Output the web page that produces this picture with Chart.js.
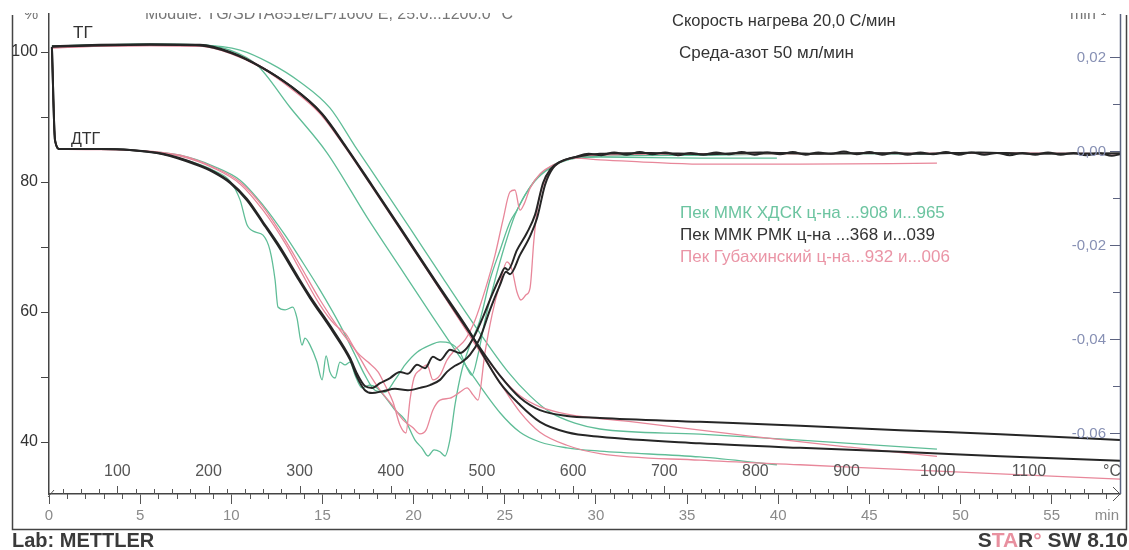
<!DOCTYPE html>
<html>
<head>
<meta charset="utf-8">
<script src="https://cdn.jsdelivr.net/npm/chart.js@4.4.1/dist/chart.umd.min.js"></script>
<style>
  html, body { margin: 0; padding: 0; background: #fff; }
  canvas { display: block; }
</style>
</head>
<body>
<canvas id="c" width="1129" height="550"></canvas>
<script>
// ---- TG curves: [time, min ; mass, %] ----
const tgBlackA = [[0.16,100.9],[2.80,101.1],[5.54,101.2],[8.28,101.1],[9.93,100.0],[11.57,97.8],[13.22,94.8],[14.87,90.8],[16.24,85.5],[17.61,79.8],[19.25,72.9],[21.06,65.2],[22.93,57.4],[24.74,50.2],[25.84,46.8],[26.93,44.9],[28.41,44.0],[30.22,43.7],[35.71,43.1],[41.20,42.5],[46.68,41.8],[52.17,41.2],[58.75,40.3]];
const tgBlackB = [[0.16,100.8],[2.80,101.0],[5.54,101.1],[8.28,101.0],[10.03,99.8],[11.68,97.6],[13.33,94.6],[14.98,90.5],[16.35,85.2],[17.72,79.5],[19.36,72.6],[21.17,64.9],[23.04,57.1],[24.74,49.1],[25.84,45.7],[26.93,43.1],[28.41,41.5],[30.22,40.8],[35.71,39.8],[41.20,39.1],[46.68,38.5],[52.17,37.8],[58.75,37.1]];
const tgGreenA = [[0.16,100.9],[2.80,101.1],[5.54,101.2],[8.28,101.1],[9.93,100.3],[11.41,98.0],[13.22,91.5],[15.25,84.5],[17.44,74.6],[19.25,66.9],[21.06,59.2],[22.93,51.5],[24.74,44.5],[25.84,41.5],[26.93,40.0],[28.41,39.1],[30.22,38.6],[35.71,37.7],[39.93,36.5]];
const tgGreenB = [[0.16,100.9],[2.80,101.1],[5.54,101.2],[8.28,101.1],[10.48,100.3],[12.12,98.3],[13.77,95.4],[15.41,91.4],[16.79,85.5],[18.16,79.8],[19.80,72.9],[21.61,65.2],[23.48,57.4],[25.18,50.8],[26.39,47.1],[27.48,44.6],[28.85,42.9],[30.22,42.0],[35.71,41.2],[41.20,40.3],[48.71,38.9]];
const tgPinkA = [[0.16,100.6],[2.80,100.9],[5.54,101.0],[8.28,100.9],[9.93,99.8],[11.57,97.7],[13.22,94.5],[14.87,90.5],[16.35,84.9],[17.72,79.2],[19.36,72.3],[21.17,64.6],[22.98,56.9],[24.74,50.2],[25.84,47.1],[26.93,45.4],[28.41,44.3],[32.03,43.1],[38.45,40.9],[43.94,39.2],[48.71,37.8]];
const tgPinkB = [[0.16,100.7],[2.80,100.9],[5.54,101.0],[8.28,100.9],[10.20,99.7],[11.85,97.4],[13.49,94.2],[15.14,89.8],[16.51,84.5],[17.88,78.8],[19.53,71.7],[21.28,64.2],[23.09,56.3],[24.74,49.1],[25.84,44.6],[26.93,41.5],[28.41,39.5],[30.22,38.2],[35.71,37.2],[41.20,36.5],[46.68,35.8],[52.17,35.1],[58.75,34.3]];

// ---- DTG curves: [time, min ; rate] ----
const dtgBlackA = [[0.16,0.0221],[0.33,0.0023],[0.60,0.0004],[2.80,0.0004],[4.44,0.0002],[6.25,-0.0006],[8.12,-0.0028],[9.00,-0.0043],[9.93,-0.0066],[10.86,-0.0102],[11.74,-0.0151],[12.67,-0.0204],[13.60,-0.0264],[14.32,-0.0309],[15.58,-0.0381],[16.51,-0.0440],[16.90,-0.0474],[17.33,-0.0500],[17.72,-0.0504],[18.16,-0.0494],[18.71,-0.0483],[19.25,-0.0470],[19.69,-0.0474],[20.19,-0.0455],[20.63,-0.0462],[21.06,-0.0438],[21.45,-0.0445],[22.00,-0.0423],[22.54,-0.0430],[22.93,-0.0419],[23.37,-0.0391],[23.81,-0.0353],[24.30,-0.0306],[24.74,-0.0268],[25.01,-0.0249],[25.18,-0.0253],[25.67,-0.0211],[26.22,-0.0174],[26.66,-0.0136],[27.10,-0.0068],[27.48,-0.0040],[28.03,-0.0023],[28.85,-0.0013],[29.6,-0.0006],[30.3,-0.0009],[31.0,-0.0003],[31.7,-0.0008],[32.4,-0.0002],[33.1,-0.0007],[33.8,-0.0003],[34.5,-0.0009],[35.2,-0.0004],[35.9,-0.0008],[36.6,-0.0003],[37.3,-0.0007],[38.0,-0.0002],[38.7,-0.0008],[39.4,-0.0003],[40.1,-0.0007],[40.8,-0.0002],[41.5,-0.0008],[42.2,-0.0003],[42.9,-0.0006],[43.6,-0.0001],[44.3,-0.0007],[45.0,-0.0002],[45.7,-0.0008],[46.4,-0.0003],[47.1,-0.0008],[47.8,-0.0003],[48.5,-0.0007],[49.2,-0.0002],[49.9,-0.0008],[50.6,-0.0003],[51.3,-0.0008],[52.0,-0.0004],[52.7,-0.0009],[53.4,-0.0004],[54.1,-0.0008],[54.8,-0.0003],[55.5,-0.0008],[56.2,-0.0004],[56.9,-0.0009],[57.6,-0.0005],[58.3,-0.0010],[58.75,-0.0007]];
const dtgBlackB = [[0.16,0.0221],[0.33,0.0023],[0.60,0.0004],[2.80,0.0004],[4.44,0.0002],[6.25,-0.0007],[8.12,-0.0030],[9.00,-0.0045],[9.93,-0.0068],[10.86,-0.0105],[11.74,-0.0154],[12.67,-0.0208],[13.60,-0.0268],[14.32,-0.0313],[15.58,-0.0385],[16.51,-0.0444],[16.90,-0.0481],[17.33,-0.0509],[17.72,-0.0515],[18.32,-0.0511],[18.98,-0.0506],[19.69,-0.0509],[20.35,-0.0504],[20.90,-0.0498],[21.45,-0.0487],[21.83,-0.0470],[22.27,-0.0457],[22.65,-0.0449],[23.09,-0.0434],[23.64,-0.0398],[24.19,-0.0338],[24.74,-0.0285],[25.07,-0.0257],[25.29,-0.0262],[25.84,-0.0221],[26.39,-0.0181],[26.77,-0.0143],[27.21,-0.0072],[27.65,-0.0036],[28.30,-0.0019],[29.13,-0.0011],[30.22,-0.0006],[33.0,-0.0004],[36.0,-0.0007],[39.0,-0.0003],[42.0,-0.0006],[45.0,-0.0004],[48.0,-0.0006],[51.0,-0.0003],[54.0,-0.0006],[58.75,-0.0005]];
const dtgGreenA = [[0.16,0.0221],[0.33,0.0023],[0.60,0.0004],[2.80,0.0004],[4.44,0.0002],[6.25,-0.0006],[8.12,-0.0027],[9.00,-0.0041],[9.93,-0.0064],[10.48,-0.0104],[10.86,-0.0157],[11.30,-0.0172],[11.74,-0.0179],[12.12,-0.0211],[12.40,-0.0274],[12.56,-0.0332],[12.95,-0.0338],[13.38,-0.0332],[13.60,-0.0355],[13.88,-0.0413],[14.04,-0.0398],[14.32,-0.0413],[14.70,-0.0449],[14.98,-0.0487],[15.20,-0.0436],[15.41,-0.0470],[15.69,-0.0483],[15.96,-0.0449],[16.24,-0.0455],[16.51,-0.0449],[16.79,-0.0477],[17.17,-0.0504],[17.61,-0.0498],[17.99,-0.0504],[18.43,-0.0523],[18.98,-0.0551],[19.53,-0.0572],[20.08,-0.0615],[20.46,-0.0632],[20.79,-0.0649],[21.12,-0.0636],[21.45,-0.0640],[21.72,-0.0649],[22.00,-0.0613],[22.27,-0.0540],[22.65,-0.0466],[23.09,-0.0413],[23.64,-0.0360],[24.19,-0.0274],[24.74,-0.0211],[25.29,-0.0151],[25.67,-0.0126],[26.11,-0.0094],[26.66,-0.0062],[27.48,-0.0034],[28.41,-0.0019],[30.22,-0.0013],[35.71,-0.0015],[39.93,-0.0015]];
const dtgGreenB = [[0.16,0.0221],[0.33,0.0023],[0.60,0.0004],[2.80,0.0004],[4.44,0.0002],[7.19,-0.0009],[9.00,-0.0032],[10.48,-0.0062],[11.74,-0.0115],[12.95,-0.0179],[13.77,-0.0228],[14.87,-0.0296],[15.96,-0.0370],[16.79,-0.0434],[17.33,-0.0477],[17.88,-0.0509],[18.43,-0.0513],[18.98,-0.0487],[19.53,-0.0455],[20.19,-0.0428],[20.90,-0.0413],[21.45,-0.0406],[22.00,-0.0409],[22.54,-0.0428],[22.93,-0.0462],[23.20,-0.0477],[23.53,-0.0434],[23.92,-0.0360],[24.47,-0.0274],[25.01,-0.0200],[25.56,-0.0136],[26.11,-0.0094],[26.82,-0.0057],[27.76,-0.0030],[28.85,-0.0015],[30.22,-0.0011],[35.71,-0.0009],[41.20,-0.0006],[48.71,-0.0006]];
const dtgPinkA = [[0.16,0.0221],[0.33,0.0023],[0.60,0.0004],[2.80,0.0003],[4.44,0.0002],[7.19,-0.0011],[9.00,-0.0036],[10.48,-0.0070],[11.74,-0.0126],[12.95,-0.0196],[13.77,-0.0253],[14.87,-0.0328],[15.69,-0.0370],[16.24,-0.0387],[16.90,-0.0428],[17.50,-0.0449],[18.05,-0.0470],[18.43,-0.0498],[18.87,-0.0534],[19.25,-0.0583],[19.58,-0.0600],[19.80,-0.0530],[20.02,-0.0483],[20.35,-0.0466],[20.74,-0.0455],[21.06,-0.0487],[21.45,-0.0477],[21.83,-0.0445],[22.27,-0.0423],[22.82,-0.0402],[23.37,-0.0360],[23.92,-0.0296],[24.47,-0.0221],[24.90,-0.0147],[25.29,-0.0087],[25.56,-0.0083],[25.84,-0.0126],[26.06,-0.0113],[26.39,-0.0079],[26.93,-0.0049],[27.76,-0.0028],[28.85,-0.0015],[30.22,-0.0019],[32.42,-0.0023],[35.71,-0.0028],[41.20,-0.0028],[48.71,-0.0026]];
const dtgPinkB = [[0.16,0.0221],[0.33,0.0023],[0.60,0.0004],[2.80,0.0004],[4.44,0.0002],[7.19,-0.0009],[9.00,-0.0034],[10.48,-0.0066],[11.74,-0.0119],[12.95,-0.0189],[13.77,-0.0243],[14.87,-0.0317],[15.96,-0.0381],[16.79,-0.0423],[17.50,-0.0470],[18.16,-0.0509],[18.82,-0.0540],[19.42,-0.0572],[19.97,-0.0589],[20.35,-0.0602],[20.68,-0.0594],[21.06,-0.0551],[21.45,-0.0530],[22.00,-0.0526],[22.54,-0.0513],[22.93,-0.0504],[23.26,-0.0519],[23.53,-0.0530],[23.92,-0.0428],[24.30,-0.0349],[24.74,-0.0281],[25.12,-0.0236],[25.40,-0.0253],[25.67,-0.0300],[25.89,-0.0317],[26.17,-0.0306],[26.39,-0.0291],[26.60,-0.0189],[26.82,-0.0115],[27.21,-0.0062],[27.76,-0.0032],[28.58,-0.0015],[30.22,-0.0009],[35.71,-0.0006],[41.20,-0.0006],[52.17,-0.0004],[58.75,-0.0006]];

// ---- axes ----
const timeTicks = [0, 5, 10, 15, 20, 25, 30, 35, 40, 45, 50, 55];
const tempTicks = [100, 200, 300, 400, 500, 600, 700, 800, 900, 1000, 1100];
const massTicks = [40, 50, 60, 70, 80, 90, 100];
const massLabels = ['40', '', '60', '', '80', '', '100'];
const dtgTicks = [0.02, 0.01, 0, -0.01, -0.02, -0.03, -0.04, -0.05, -0.06];
const dtgLabels = ['0,02', '', '0,00', '', '-0,02', '', '-0,04', '', '-0,06'];
const startTemp = 25;   // °C at t = 0
const heatRate = 20;    // °C per min

// ---- captions ----
const sampleNames = ['Пек ММК ХДСК ц-на ...908 и...965', 'Пек ММК РМК ц-на ...368 и...039', 'Пек Губахинский ц-на...932 и...006'];
const conditions = ['Скорость нагрева 20,0 С/мин', 'Среда-азот 50 мл/мин'];

const FONT = '"Liberation Sans", Arial, sans-serif';
const GREEN = '#5fbd97', BLACK = '#262626', PINK = '#e8879a';

const xy = arr => arr.map(([x, y]) => ({ x, y }));
const line = (data, color, width, axis) => ({
  data: xy(data), borderColor: color, borderWidth: width, yAxisID: axis,
  pointRadius: 0, fill: false, cubicInterpolationMode: 'monotone'
});

const decor = {
  id: 'decor',
  afterDraw(chart) {
    const { ctx, chartArea: a, scales: { x, y2 } } = chart;
    const seg = (x1, y1, x2, y2_) => { ctx.beginPath(); ctx.moveTo(x1, y1); ctx.lineTo(x2, y2_); ctx.stroke(); };
    ctx.save();

    // minute minor ticks (downwards)
    ctx.strokeStyle = '#555'; ctx.lineWidth = 1;
    for (let m = 1; m <= 58; m++) {
      if (m % 5 === 0) continue;
      const px = Math.round(x.getPixelForValue(m)) + 0.5;
      seg(px, a.bottom, px, a.bottom + 5);
    }
    // temperature ticks (upwards)
    for (let T = 40; T <= 1180; T += 20) {
      const px = Math.round(x.getPixelForValue((T - startTemp) / heatRate)) + 0.5;
      seg(px, a.bottom, px, a.bottom - (T % 100 === 0 ? 8 : 5));
    }
    // axis ends
    seg(a.left - 1, a.bottom + 3, a.left + 5, a.bottom - 4);
    seg(a.right - 7, a.bottom - 7, a.right, a.bottom);
    seg(a.right - 7, a.bottom + 7, a.right, a.bottom);

    // temperature labels
    ctx.fillStyle = '#555'; ctx.font = '16px ' + FONT;
    ctx.textAlign = 'center'; ctx.textBaseline = 'middle';
    tempTicks.forEach(T => ctx.fillText(String(T), x.getPixelForValue((T - startTemp) / heatRate), 472));
    ctx.textAlign = 'right';
    ctx.fillText('°C', 1121, 472);
    ctx.fillStyle = '#8a8a8a'; ctx.font = '15px ' + FONT;
    ctx.fillText('min', 1119, 516);

    // right axis (DTG)
    ctx.strokeStyle = '#5c6380'; ctx.lineWidth = 1.5;
    seg(a.right + 0.5, a.top, a.right + 0.5, a.bottom);
    ctx.lineWidth = 1;
    ctx.fillStyle = '#8790b4'; ctx.font = '15px ' + FONT;
    ctx.textAlign = 'right'; ctx.textBaseline = 'middle';
    dtgTicks.forEach((v, i) => {
      const py = Math.round(y2.getPixelForValue(v)) + 0.5;
      const len = dtgLabels[i] ? 10 : 7;
      seg(a.right - len, py, a.right, py);
      if (dtgLabels[i]) ctx.fillText(dtgLabels[i], a.right - 14, py);
    });

    // outer frame
    ctx.strokeStyle = '#444'; ctx.lineWidth = 1.5;
    ctx.beginPath();
    ctx.moveTo(12.5, 15); ctx.lineTo(12.5, 529.5); ctx.lineTo(1126.5, 529.5); ctx.lineTo(1126.5, 15);
    ctx.stroke();

    // curve names
    ctx.fillStyle = '#333'; ctx.font = '17px ' + FONT;
    ctx.textAlign = 'left'; ctx.textBaseline = 'middle';
    ctx.fillText('ТГ', 73, 33);
    ctx.font = '16px ' + FONT;
    ctx.fillText('ДТГ', 71, 140);

    // run conditions
    ctx.font = '16.5px ' + FONT;
    ctx.fillText(conditions[0], 672, 21);
    ctx.font = '17px ' + FONT;
    ctx.fillText(conditions[1], 679, 53);

    // sample legend
    const legColors = ['#6cc4a0', '#333333', '#ea95a6'];
    ctx.font = '17px ' + FONT;
    sampleNames.forEach((s, i) => { ctx.fillStyle = legColors[i]; ctx.fillText(s, 680, 213 + i * 22); });

    // header line, cut by the page top
    ctx.save();
    ctx.beginPath(); ctx.rect(0, 13, 1129, 12); ctx.clip();
    ctx.fillStyle = '#777'; ctx.font = '16px ' + FONT; ctx.textBaseline = 'alphabetic';
    ctx.fillText('Module: TG/SDTA851e/LF/1600 E, 25.0...1200.0 °C', 145, 19);
    ctx.fillText('%', 24, 19);
    ctx.fillText('min⁻¹', 1070, 19);
    ctx.restore();

    // footer
    ctx.font = 'bold 20px ' + FONT; ctx.textBaseline = 'middle'; ctx.textAlign = 'left';
    ctx.fillStyle = '#3a3a3a';
    ctx.fillText('Lab: METTLER', 12, 541);
    ctx.font = 'bold 21px ' + FONT;
    const parts = [['S', '#3a3a3a'], ['TA', '#e8909f'], ['R', '#3a3a3a'], ['°', '#e8909f'], [' SW 8.10', '#3a3a3a']];
    const total = parts.reduce((w, p) => w + ctx.measureText(p[0]).width, 0);
    let cx = 1128 - total;
    parts.forEach(([t, c]) => { ctx.fillStyle = c; ctx.fillText(t, cx, 541); cx += ctx.measureText(t).width; });

    ctx.restore();
  }
};

Chart.defaults.font.family = FONT;

new Chart(document.getElementById('c'), {
  type: 'line',
  data: {
    datasets: [
      line(tgBlackA, BLACK, 2, 'y'),
      line(tgBlackB, BLACK, 2, 'y'),
      line(dtgBlackA, BLACK, 2, 'y2'),
      line(dtgBlackB, BLACK, 2, 'y2'),
      line(tgPinkA, PINK, 1.3, 'y'),
      line(tgPinkB, PINK, 1.3, 'y'),
      line(dtgPinkA, PINK, 1.3, 'y2'),
      line(dtgPinkB, PINK, 1.3, 'y2'),
      line(tgGreenA, GREEN, 1.3, 'y'),
      line(tgGreenB, GREEN, 1.3, 'y'),
      line(dtgGreenA, GREEN, 1.3, 'y2'),
      line(dtgGreenB, GREEN, 1.3, 'y2')
    ]
  },
  options: {
    responsive: false,
    animation: false,
    events: [],
    layout: { padding: { top: 14, right: 9, bottom: 0, left: 0 } },
    plugins: { legend: { display: false }, tooltip: { enabled: false } },
    scales: {
      x: {
        type: 'linear', position: 'bottom', min: 0, max: 58.75,
        afterBuildTicks: s => { s.ticks = timeTicks.map(v => ({ value: v })); },
        afterFit: s => { s.height = 56; },
        ticks: { color: '#8a8a8a', font: { size: 15 }, padding: 3, maxRotation: 0, autoSkip: false, callback: v => String(v) },
        grid: { drawOnChartArea: false, tickLength: 10, tickColor: '#555', tickWidth: 1 },
        border: { color: '#444', width: 1.5 }
      },
      y: {
        type: 'linear', position: 'left', min: 32, max: 105.85,
        afterBuildTicks: s => { s.ticks = massTicks.map(v => ({ value: v })); },
        afterFit: s => { s.width = 49; },
        ticks: { color: '#333', font: { size: 16 }, padding: 3, callback: (v, i) => massLabels[i] },
        grid: { drawOnChartArea: false, tickLength: 8, tickColor: '#444', tickWidth: 1 },
        border: { color: '#444', width: 1.5 }
      },
      y2: { type: 'linear', position: 'right', display: false, min: -0.07298, max: 0.02915 }
    }
  },
  plugins: [decor]
});
</script>
</body>
</html>
